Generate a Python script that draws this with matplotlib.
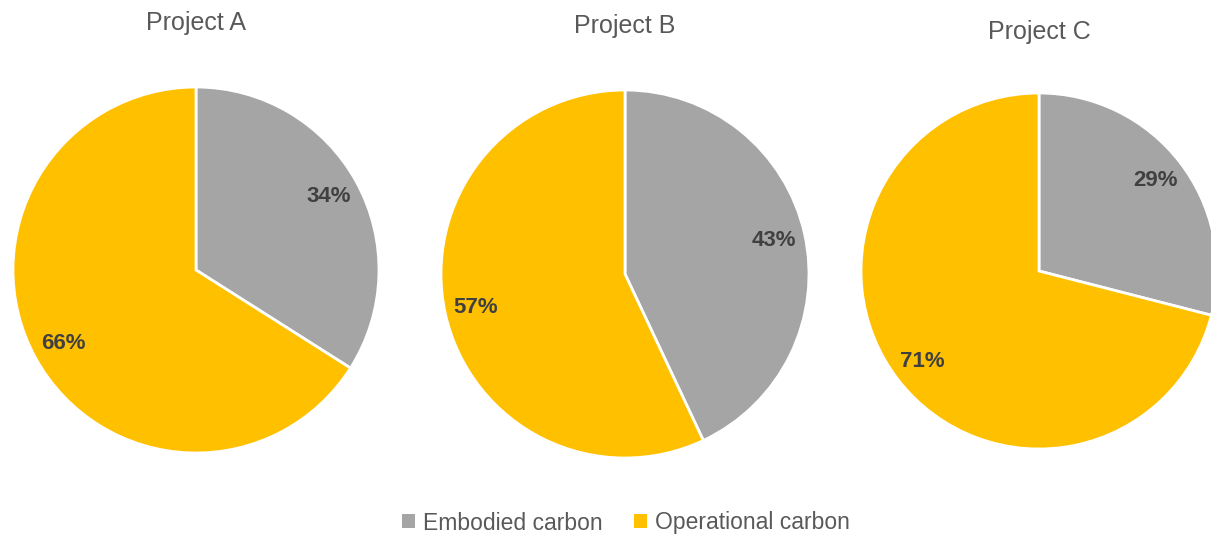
import matplotlib.pyplot as plt
from matplotlib.patches import Patch

plt.rcParams['font.family'] = ['Liberation Sans', 'DejaVu Sans']

projects = ['Project A', 'Project B', 'Project C']
categories = ['Embodied carbon', 'Operational carbon']
embodied = [34, 43, 29]
operational = [66, 57, 71]
colors = ['#A5A5A5', '#FFC000']

W, H = 1211, 535
# pie boxes in pixels: left, top, diameter ; title y
boxes = [(13, 87, 366, 23), (441, 90, 368, 26), (861, 93, 356, 32)]

fig = plt.figure(figsize=(W / 100, H / 100), dpi=100)

for name, e, o, (left, top, d, ty) in zip(projects, embodied, operational, boxes):
    ax = fig.add_axes([left / W, (H - top - d) / H, d / W, d / H])
    wedges, texts, autotexts = ax.pie(
        [e, o], colors=colors, startangle=90, counterclock=False,
        autopct='%d%%', pctdistance=0.83,
        wedgeprops=dict(edgecolor='white', linewidth=2))
    for t in autotexts:
        t.set_color('#404040')
        t.set_fontweight('bold')
        t.set_fontsize(16)
    ax.set_xlim(-1, 1)
    ax.set_ylim(-1, 1)
    fig.text((left + d / 2) / W, 1 - ty / H, name, ha='center', va='center',
             fontsize=18, color='#595959')

handles = [Patch(facecolor=c, edgecolor='none') for c in colors]
fig.legend(handles, categories, loc='center', bbox_to_anchor=(626 / W, 1 - 523 / H),
           ncol=2, frameon=False, fontsize=16.5, handlelength=0.55, handleheight=0.55,
           handletextpad=0.35, columnspacing=1.4, labelcolor='#595959')

fig.savefig('out.png', dpi=100)
